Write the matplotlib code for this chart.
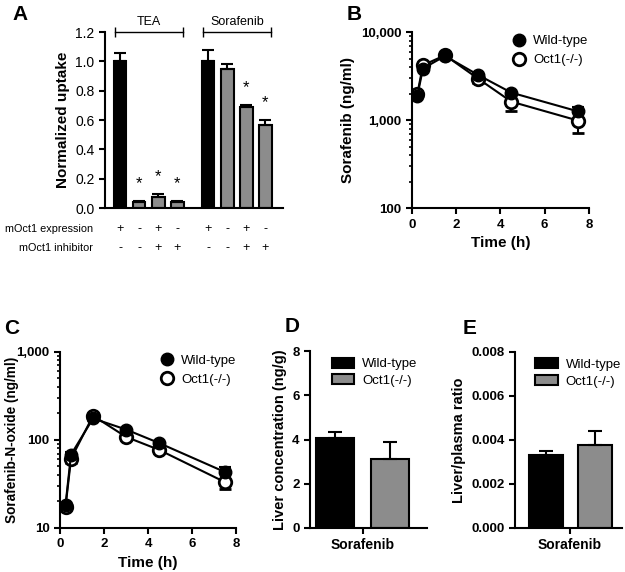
import matplotlib.pyplot as plt
import matplotlib.ticker as mticker
from matplotlib.patches import Patch
from matplotlib.lines import Line2D

plt.rcParams['font.family'] = ['Liberation Sans', 'DejaVu Sans']

# panel A
tea_pos = [0, 1, 2, 3]
sor_pos = [4.63, 5.63, 6.65, 7.63]
tea_vals = [1.0, 0.04, 0.075, 0.04]
tea_err = [0.055, 0.006, 0.022, 0.006]
sor_vals = [1.0, 0.95, 0.69, 0.57]
sor_err = [0.08, 0.03, 0.01, 0.03]
bar_colors = ['black', '#8c8c8c', '#8c8c8c', '#8c8c8c']
tea_star = [False, True, True, True]
sor_star = [False, False, True, True]
expr_row = ['+', '-', '+', '-']
inhib_row = ['-', '-', '+', '+']

# panel B / C
time = [0.25, 0.5, 1.5, 3, 4.5, 7.5]
b_wt = [1900, 3850, 5350, 3250, 2050, 1260]
b_wt_err = [60, 150, 200, 150, 100, 150]
b_ko = [2000, 4200, 5450, 2950, 1620, 990]
b_ko_err = [80, 200, 200, 300, 350, 280]
c_wt = [18.2, 68, 175, 131, 92, 43]
c_wt_err = [0.8, 4, 10, 6, 5, 6]
c_ko = [17.4, 61, 188, 108, 77, 33]
c_ko_err = [1, 6, 20, 8, 6, 5]

# panel D / E
d_vals = [4.05, 3.1]
d_err = [0.3, 0.77]
e_vals = [0.00332, 0.00376]
e_err = [0.00018, 0.00063]
groups = ['Wild-type', 'Oct1(-/-)']

fig = plt.figure(figsize=(6.25, 5.72), dpi=100)


def style(ax, bold=True):
    for s in ['top', 'right']:
        ax.spines[s].set_visible(False)
    for s in ['left', 'bottom']:
        ax.spines[s].set_linewidth(1.5)
    ax.tick_params(width=1.5, length=4, direction='out', labelsize=9.5)
    if bold:
        for lb in ax.get_xticklabels() + ax.get_yticklabels():
            lb.set_fontweight('bold')


# ---- A
ax = fig.add_axes([0.168, 0.636, 0.285, 0.308])
ax.bar(tea_pos, tea_vals, 0.68, color=bar_colors, edgecolor='black', linewidth=1.5,
       yerr=[[0] * 4, tea_err], error_kw=dict(ecolor='black', capsize=4, capthick=1.5, elinewidth=1.5))
ax.bar(sor_pos, sor_vals, 0.68, color=bar_colors, edgecolor='black', linewidth=1.5,
       yerr=[[0] * 4, sor_err], error_kw=dict(ecolor='black', capsize=4, capthick=1.5, elinewidth=1.5))
for pos, vals, err, stars in [(tea_pos, tea_vals, tea_err, tea_star), (sor_pos, sor_vals, sor_err, sor_star)]:
    for x, v, e, s in zip(pos, vals, err, stars):
        if s:
            ax.text(x, v + e + 0.07, '*', ha='center', va='bottom', fontsize=12)
ax.set_xlim(-0.79, 8.58)
ax.set_ylim(0, 1.2)
ax.set_yticks([0, 0.2, 0.4, 0.6, 0.8, 1.0, 1.2])
ax.yaxis.set_major_formatter(mticker.FormatStrFormatter('%.1f'))
ax.set_xticks([])
style(ax, bold=False)
ax.tick_params(labelsize=10)
ax.set_ylabel('Normalized uptake', fontsize=11, fontweight='bold')
for pos, name in [(tea_pos, 'TEA'), (sor_pos, 'Sorafenib')]:
    x0, x1 = pos[0] - 0.26, pos[-1] + 0.32
    ax.plot([x0, x1], [1.2, 1.2], color='black', lw=1, clip_on=False)
    ax.plot([x0, x1], [1.2, 1.2], '|', color='black', ms=7, mew=1, clip_on=False)
    ax.text((x0 + x1) / 2, 1.225, name, ha='center', va='bottom', fontsize=9)
tr = ax.get_xaxis_transform()
for pos in [tea_pos, sor_pos]:
    for x, e, i in zip(pos, expr_row, inhib_row):
        ax.text(x, -0.12, e, transform=tr, ha='center', va='center', fontsize=9)
        ax.text(x, -0.228, i, transform=tr, ha='center', va='center', fontsize=9)
fig.text(0.149, 1 - 229 / 572, 'mOct1 expression', ha='right', va='center', fontsize=7.8)
fig.text(0.149, 1 - 248 / 572, 'mOct1 inhibitor', ha='right', va='center', fontsize=7.8)


def pk(ax, wt, wte, ko, koe, ylim, ylabel, legy, ylsize):
    ax.errorbar(time, wt, yerr=[[0] * 6, wte], color='black', lw=1.5, marker='o', ms=9,
                mfc='black', mec='black', capsize=4, capthick=1.5, elinewidth=1.5, zorder=3)
    ax.errorbar(time, ko, yerr=[koe, [0] * 6], color='black', lw=1.5, marker='o', ms=9,
                mfc='white', mec='black', mew=2, capsize=4, capthick=1.5, elinewidth=1.5, zorder=2)
    ax.set_yscale('log')
    ax.set_ylim(*ylim)
    ax.set_xlim(0, 8)
    ax.set_xticks([0, 2, 4, 6, 8])
    ax.yaxis.set_major_formatter(mticker.FuncFormatter(lambda v, p: '{:,.0f}'.format(v)))
    ax.yaxis.set_minor_formatter(mticker.NullFormatter())
    style(ax)
    ax.tick_params(which='minor', width=1.2, length=2.5)
    ax.set_xlabel('Time (h)', fontsize=11, fontweight='bold')
    ax.set_ylabel(ylabel, fontsize=ylsize, fontweight='bold')
    handles = [Line2D([], [], ls='none', marker='o', ms=9, mfc='black', mec='black'),
               Line2D([], [], ls='none', marker='o', ms=9, mfc='white', mec='black', mew=2)]
    ax.legend(handles, groups, loc='upper left', bbox_to_anchor=(0.53, legy), frameon=False,
              fontsize=9.5, handletextpad=0.6, labelspacing=0.5, borderpad=0, handlelength=1)


# ---- B
ax = fig.add_axes([0.659, 0.636, 0.283, 0.308])
pk(ax, b_wt, b_wt_err, b_ko, b_ko_err, (100, 10000), 'Sorafenib (ng/ml)', 1.02, 11)

# ---- C
ax = fig.add_axes([0.096, 0.077, 0.282, 0.308])
pk(ax, c_wt, c_wt_err, c_ko, c_ko_err, (10, 1000), 'Sorafenib-N-oxide (ng/ml)', 1.02, 9.8)
ax.yaxis.set_label_coords(-0.235, 0.5)


def liver(ax, vals, err, pos, xlim, ylim, yticks, fmt, ylabel, tickx):
    ax.bar(pos, vals, 0.69, color=['black', '#8c8c8c'], edgecolor='black', linewidth=1.5,
           yerr=[[0, 0], err], error_kw=dict(ecolor='black', capsize=5, capthick=1.5, elinewidth=1.5))
    ax.set_xlim(*xlim)
    ax.set_ylim(*ylim)
    ax.set_yticks(yticks)
    ax.yaxis.set_major_formatter(mticker.FormatStrFormatter(fmt))
    ax.set_xticks([tickx])
    ax.set_xticklabels(['Sorafenib'])
    style(ax)
    ax.tick_params(axis='x', labelsize=10)
    ax.set_ylabel(ylabel, fontsize=10.5, fontweight='bold')
    handles = [Patch(facecolor='black', edgecolor='black', lw=1.5),
               Patch(facecolor='#8c8c8c', edgecolor='black', lw=1.5)]
    ax.legend(handles, groups, loc='upper left', bbox_to_anchor=(0.13, 1.0), frameon=False,
              fontsize=9.5, handletextpad=0.6, labelspacing=0.3, borderpad=0, handlelength=1.7,
              handleheight=0.8)


# ---- D
ax = fig.add_axes([0.496, 0.077, 0.187, 0.309])
liver(ax, d_vals, d_err, [0, 1], (-0.45, 1.67), (0, 8), [0, 2, 4, 6, 8], '%d',
      'Liver concentration (ng/g)', 0.51)

# ---- E
ax = fig.add_axes([0.824, 0.077, 0.171, 0.308])
liver(ax, e_vals, e_err, [0, 1], (-0.63, 1.54), (0, 0.008), [0, 0.002, 0.004, 0.006, 0.008], '%.3f',
      'Liver/plasma ratio', 0.48)

for lab, x, y in [('A', 12, 14), ('B', 347, 14), ('C', 4, 328), ('D', 285, 326), ('E', 463, 328)]:
    fig.text(x / 625, 1 - y / 572, lab, fontsize=15, fontweight='bold', va='center', ha='left')

fig.savefig('out.png', dpi=100)
